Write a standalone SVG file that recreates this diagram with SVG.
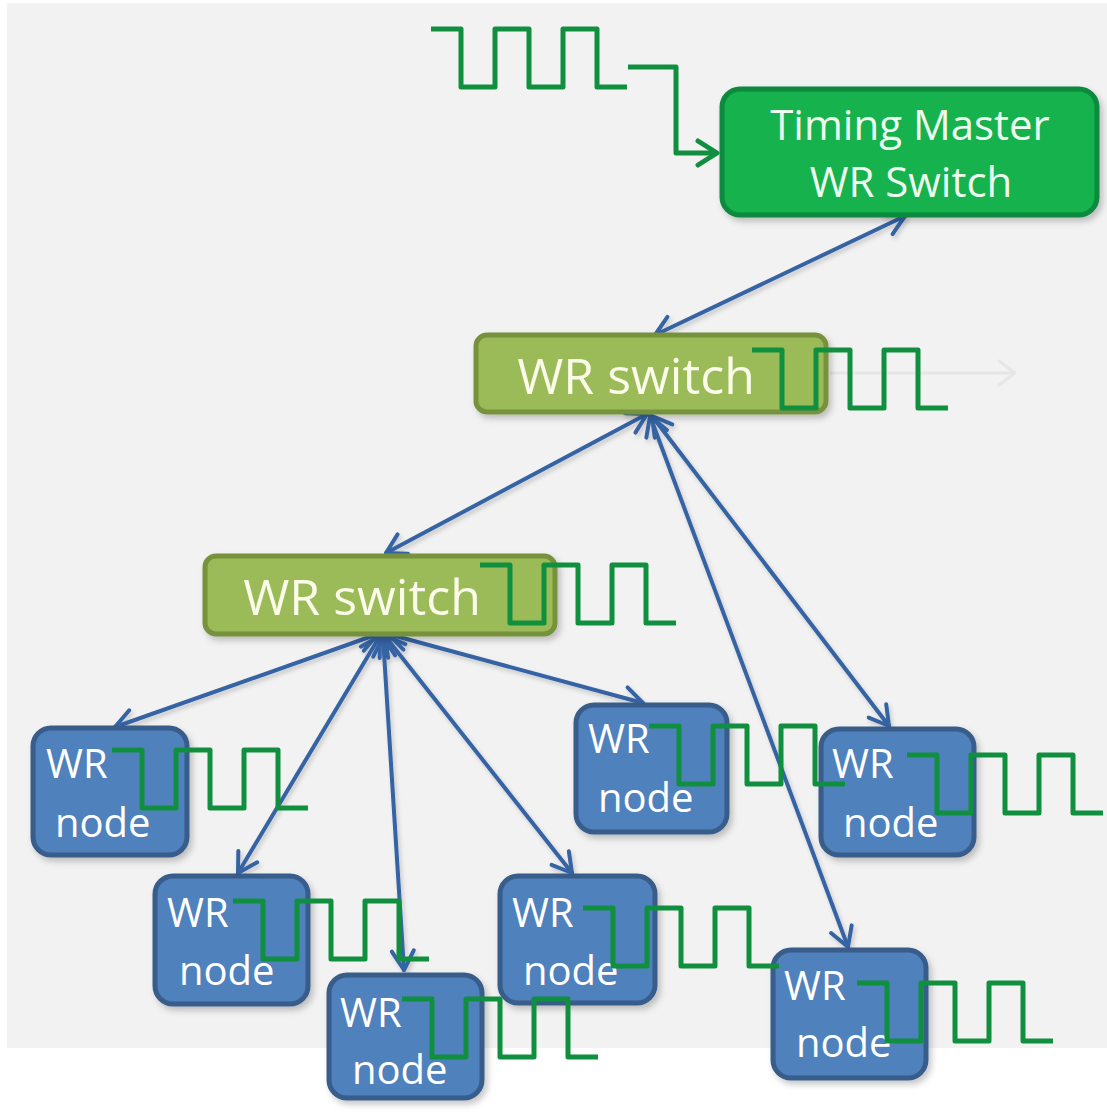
<svg xmlns="http://www.w3.org/2000/svg" width="1107" height="1113" viewBox="0 0 1107 1113">
  <defs>
    <style>
      .bg { fill: #f2f2f2; }
      .master { fill: #12b24e; stroke: #0a8a3c; stroke-width: 5; }
      .switch { fill: #9bbb59; stroke: #76923c; stroke-width: 5; }
      .node { fill: #4f81bd; stroke: #385d8a; stroke-width: 5; }
      .t { font-family: "Open Sans", "Noto Sans", "Liberation Sans", sans-serif; }
      .tm { font-size: 42px; fill: #eefcef; text-anchor: middle; }
      .ts { font-size: 50px; fill: #fbfbe9; text-anchor: middle; }
      .tn { font-size: 40px; fill: #ffffff; }
      .conn { fill: none; stroke: #3464a4; stroke-width: 4; stroke-linecap: round; }
      .wave { fill: none; stroke: #10903e; stroke-width: 5; stroke-linejoin: round; stroke-linecap: butt; }
    </style>
    <filter id="sh" x="-20%" y="-20%" width="150%" height="150%">
      <feDropShadow dx="3" dy="4" stdDeviation="3" flood-color="#000" flood-opacity="0.22"/>
    </filter>
    <filter id="lsh" x="-10%" y="-10%" width="120%" height="120%">
      <feDropShadow dx="2" dy="3" stdDeviation="2" flood-color="#000" flood-opacity="0.18"/>
    </filter>
    <marker id="ah" viewBox="-24 -15 28 30" refX="0" refY="0" markerWidth="28" markerHeight="30" markerUnits="userSpaceOnUse" orient="auto-start-reverse">
      <path d="M-19,-11 L0,0 L-19,11" fill="none" stroke="#3464a4" stroke-width="4" stroke-linecap="round" stroke-linejoin="round"/>
    </marker>
    <marker id="ahg" viewBox="-24 -15 28 30" refX="0" refY="0" markerWidth="28" markerHeight="30" markerUnits="userSpaceOnUse" orient="auto">
      <path d="M-19,-12 L0,0 L-19,12" fill="none" stroke="#10903e" stroke-width="5" stroke-linecap="round" stroke-linejoin="round"/>
    </marker>
    <marker id="ahf" viewBox="-24 -15 28 30" refX="0" refY="0" markerWidth="28" markerHeight="30" markerUnits="userSpaceOnUse" orient="auto">
      <path d="M-16,-12 L0,0 L-16,12" fill="none" stroke="#e6e6e6" stroke-width="3" stroke-linecap="round" stroke-linejoin="round"/>
    </marker>
    <path id="wv" d="M0,0 H30 V58 H64 V0 H98 V58 H132 V0 H166 V58 H196"/>
  </defs>

  <rect width="1107" height="1113" fill="#ffffff"/>
  <rect class="bg" x="7" y="3" width="1100" height="1045"/>

  <g id="connectors">
    <path d="M830,373 L1015,373" fill="none" stroke="#e6e6e6" stroke-width="3" marker-end="url(#ahf)"/>
    <g filter="url(#lsh)">
      <path class="conn" d="M905,216 L655,335" marker-start="url(#ah)" marker-end="url(#ah)"/>
      <path class="conn" d="M647,414 L386,553" marker-start="url(#ah)" marker-end="url(#ah)"/>
      <path class="conn" d="M652,416 L889,726" marker-start="url(#ah)" marker-end="url(#ah)"/>
      <path class="conn" d="M650,416 L848,947" marker-start="url(#ah)" marker-end="url(#ah)"/>
      <path class="conn" d="M378,634 L115,727" marker-start="url(#ah)" marker-end="url(#ah)"/>
      <path class="conn" d="M380,636 L238,873" marker-start="url(#ah)" marker-end="url(#ah)"/>
      <path class="conn" d="M383,637 L404,970" marker-start="url(#ah)" marker-end="url(#ah)"/>
      <path class="conn" d="M385,636 L572,873" marker-start="url(#ah)" marker-end="url(#ah)"/>
      <path class="conn" d="M388,634 L643,703" marker-start="url(#ah)" marker-end="url(#ah)"/>
    </g>
    <path d="M628,67 H676 V153 H717" fill="none" stroke="#10903e" stroke-width="5" stroke-linejoin="round" marker-end="url(#ahg)"/>
  </g>

  <g id="timing-master">
    <rect class="master" x="722" y="89" width="375" height="126" rx="18" filter="url(#sh)"/>
    <text class="t tm" x="910" y="140">Timing Master</text>
    <text class="t tm" x="911" y="197">WR Switch</text>
  </g>

  <g id="switch-mid">
    <rect class="switch" x="476" y="335" width="350" height="77" rx="11" filter="url(#sh)"/>
    <text class="t ts" x="636" y="394">WR switch</text>
  </g>

  <g id="switch-left">
    <rect class="switch" x="205" y="556" width="350" height="78" rx="11" filter="url(#sh)"/>
    <text class="t ts" x="362" y="615">WR switch</text>
  </g>

  <g id="node-1">
    <rect class="node" x="33" y="728" width="154" height="127" rx="18" filter="url(#sh)"/>
    <text class="t tn" x="46" y="778">WR</text>
    <text class="t tn" x="55" y="837">node</text>
  </g>
  <g id="node-2">
    <rect class="node" x="155" y="876" width="153" height="128" rx="18" filter="url(#sh)"/>
    <text class="t tn" x="167" y="927">WR</text>
    <text class="t tn" x="179" y="985">node</text>
  </g>
  <g id="node-3">
    <rect class="node" x="329" y="975" width="153" height="123" rx="18" filter="url(#sh)"/>
    <text class="t tn" x="340" y="1027">WR</text>
    <text class="t tn" x="352" y="1084">node</text>
  </g>
  <g id="node-4">
    <rect class="node" x="576" y="705" width="151" height="127" rx="18" filter="url(#sh)"/>
    <text class="t tn" x="588" y="753">WR</text>
    <text class="t tn" x="598" y="812">node</text>
  </g>
  <g id="node-5">
    <rect class="node" x="821" y="729" width="153" height="126" rx="18" filter="url(#sh)"/>
    <text class="t tn" x="832" y="778">WR</text>
    <text class="t tn" x="843" y="837">node</text>
  </g>
  <g id="node-6">
    <rect class="node" x="500" y="876" width="155" height="127" rx="18" filter="url(#sh)"/>
    <text class="t tn" x="512" y="927">WR</text>
    <text class="t tn" x="523" y="985">node</text>
  </g>
  <g id="node-7">
    <rect class="node" x="773" y="950" width="153" height="128" rx="18" filter="url(#sh)"/>
    <text class="t tn" x="784" y="1000">WR</text>
    <text class="t tn" x="796" y="1057">node</text>
  </g>

  <g id="signals">
    <use href="#wv" class="wave" x="431" y="29"/>
    <use href="#wv" class="wave" x="752" y="350"/>
    <use href="#wv" class="wave" x="480" y="565"/>
    <use href="#wv" class="wave" x="112" y="750"/>
    <use href="#wv" class="wave" x="233" y="901"/>
    <use href="#wv" class="wave" x="402" y="999"/>
    <use href="#wv" class="wave" x="649" y="726"/>
    <use href="#wv" class="wave" x="907" y="755"/>
    <use href="#wv" class="wave" x="583" y="908"/>
    <use href="#wv" class="wave" x="857" y="983"/>
  </g>
</svg>
